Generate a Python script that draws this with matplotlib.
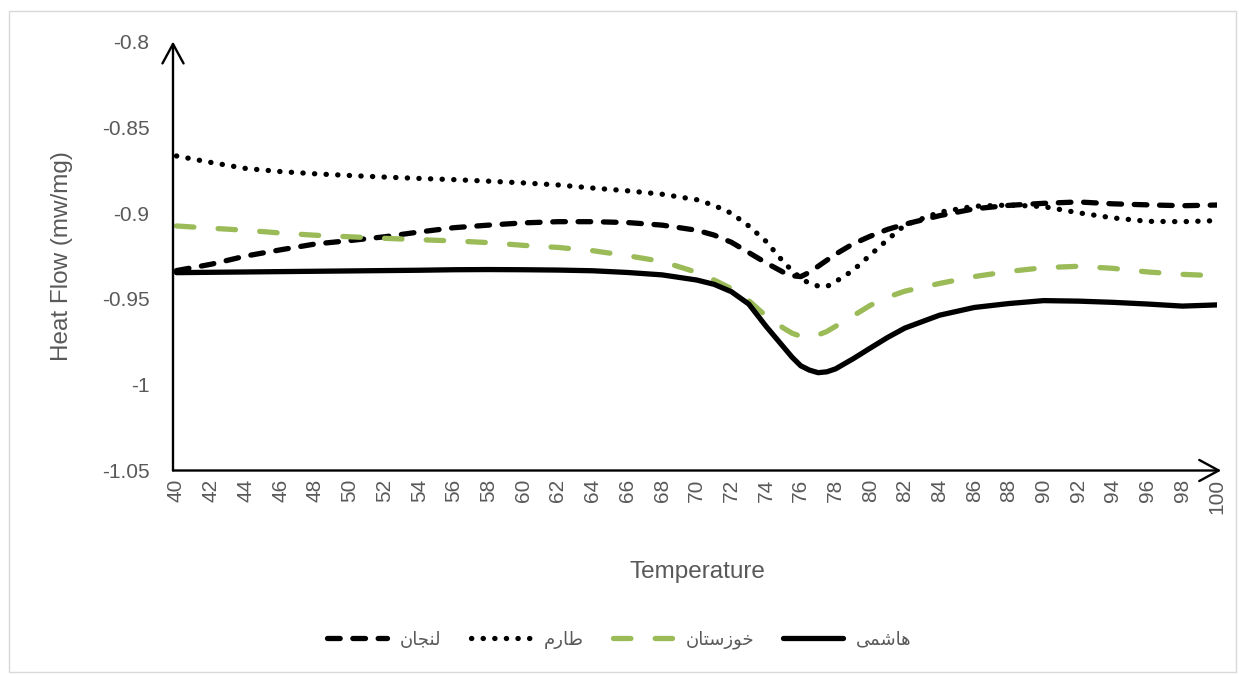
import numpy as np
import matplotlib.pyplot as plt
from matplotlib.patches import Rectangle

# ---- data ----
temperature = [40, 42, 44, 46, 48, 50, 52, 54, 56, 58, 60, 62, 64, 66, 68, 70,
               71, 72, 73, 74, 75, 75.5, 76, 76.5, 77, 77.5, 78, 79, 80, 81, 82,
               84, 86, 88, 90, 92, 94, 96, 98, 100]

lenjan = [-0.9335, -0.9298, -0.9250, -0.9214, -0.9180, -0.9160, -0.9138, -0.9110,
          -0.9085, -0.9070, -0.9057, -0.9050, -0.9050, -0.9055, -0.9070, -0.9100,
          -0.9128, -0.9170, -0.9230, -0.9290, -0.9345, -0.9365, -0.9370, -0.9345,
          -0.9310, -0.9275, -0.9240, -0.9180, -0.9135, -0.9095, -0.9065, -0.9015,
          -0.8975, -0.8955, -0.8943, -0.8935, -0.8946, -0.8952, -0.8957, -0.8953]

tarom = [-0.8667, -0.8705, -0.8740, -0.8758, -0.8771, -0.8781, -0.8790, -0.8798,
         -0.8805, -0.8814, -0.8824, -0.8836, -0.8854, -0.8870, -0.8890, -0.8922,
         -0.8955, -0.9001, -0.9075, -0.9165, -0.9285, -0.9335, -0.9380, -0.9410,
         -0.9425, -0.9428, -0.9400, -0.9335, -0.9245, -0.9155, -0.9070, -0.8995,
         -0.8960, -0.8953, -0.8962, -0.8998, -0.9028, -0.9048, -0.9050, -0.9044]

khuzestan = [-0.9075, -0.9088, -0.9100, -0.9116, -0.9129, -0.9138, -0.9147, -0.9155,
             -0.9162, -0.9172, -0.9188, -0.9200, -0.9219, -0.9248, -0.9282, -0.9345,
             -0.9390, -0.9440, -0.9510, -0.9600, -0.9670, -0.9700, -0.9718, -0.9722,
             -0.9710, -0.9690, -0.9660, -0.9600, -0.9538, -0.9490, -0.9455, -0.9410,
             -0.9370, -0.9340, -0.9318, -0.9310, -0.9322, -0.9343, -0.9357, -0.9365]

hashemi = [-0.9347, -0.9345, -0.9343, -0.9341, -0.9339, -0.9337, -0.9335, -0.9333,
           -0.9330, -0.9329, -0.9330, -0.9332, -0.9336, -0.9346, -0.9360, -0.9390,
           -0.9415, -0.9458, -0.9530, -0.9660, -0.9780, -0.9840, -0.9890, -0.9915,
           -0.9930, -0.9925, -0.9908, -0.9850, -0.9787, -0.9725, -0.9670, -0.9595,
           -0.9550, -0.9527, -0.9510, -0.9513, -0.9520, -0.9530, -0.9542, -0.9535]

series_names = ["لنجان", "طارم", "خوزستان", "هاشمی"]

x_ticks = list(range(40, 101, 2))
y_ticks = [-1.05, -1.0, -0.95, -0.9, -0.85, -0.8]
y_tick_labels = ["-1.05", "-1", "-0.95", "-0.9", "-0.85", "-0.8"]

# ---- tiny arabic shaper (matplotlib has no complex text layout) ----
FORMS = {  # isolated, final, initial, medial
    "ا": (0xFE8D, 0xFE8E, None, None),
    "ر": (0xFEAD, 0xFEAE, None, None),
    "ز": (0xFEAF, 0xFEB0, None, None),
    "و": (0xFEED, 0xFEEE, None, None),
    "ل": (0xFEDD, 0xFEDE, 0xFEDF, 0xFEE0),
    "ن": (0xFEE5, 0xFEE6, 0xFEE7, 0xFEE8),
    "ج": (0xFE9D, 0xFE9E, 0xFE9F, 0xFEA0),
    "ط": (0xFEC1, 0xFEC2, 0xFEC3, 0xFEC4),
    "م": (0xFEE1, 0xFEE2, 0xFEE3, 0xFEE4),
    "خ": (0xFEA5, 0xFEA6, 0xFEA7, 0xFEA8),
    "س": (0xFEB1, 0xFEB2, 0xFEB3, 0xFEB4),
    "ت": (0xFE95, 0xFE96, 0xFE97, 0xFE98),
    "ه": (0xFEE9, 0xFEEA, 0xFEEB, 0xFEEC),
    "ش": (0xFEB5, 0xFEB6, 0xFEB7, 0xFEB8),
    "ی": (0xFBFC, 0xFBFD, 0xFBFE, 0xFBFF),
}


def shape(word):
    out = []
    for i, ch in enumerate(word):
        iso, fin, ini, med = FORMS[ch]
        prev_joins = i > 0 and FORMS[word[i - 1]][2] is not None
        joins_next = ini is not None and i < len(word) - 1
        if prev_joins and joins_next:
            cp = med
        elif prev_joins:
            cp = fin
        elif joins_next:
            cp = ini
        else:
            cp = iso
        out.append(chr(cp))
    return "".join(reversed(out))


# ---- plot ----
GRAY = "#595959"
plt.rcParams["font.family"] = ["Liberation Sans", "DejaVu Sans"]

fig = plt.figure(figsize=(12.39, 6.75), dpi=100)
ax = fig.add_axes([173 / 1239, 1 - 470.5 / 675, (1217 - 173) / 1239, 429 / 675])

lw = 3.8
common = dict(lw=lw, dash_capstyle="round", solid_capstyle="round",
              dash_joinstyle="round", solid_joinstyle="round")
ax.plot(temperature, lenjan, color="black", linestyle=(0, (2.4, 2.4)),
        label=shape(series_names[0]), **common)
ax.plot(temperature, tarom, color="black", linestyle=(0, (0.05, 2.15)),
        label=shape(series_names[1]), **common)
ax.plot(temperature, khuzestan, color="#9BBB59", linestyle=(0, (3.3, 4.6)),
        label=shape(series_names[2]), **common)
ax.plot(temperature, hashemi, color="black", label=shape(series_names[3]), **common)

ax.set_xlim(39.8, 100)
ax.set_ylim(-1.05, -0.8)
ax.set_xticks(x_ticks)
ax.set_xticklabels([str(t) for t in x_ticks], rotation=90, va="top")
ax.set_yticks(y_ticks)
ax.set_yticklabels(y_tick_labels)
ax.tick_params(axis="x", length=0, pad=6, labelsize=15, labelcolor=GRAY)
ax.tick_params(axis="y", length=0, pad=17, labelsize=15, labelcolor=GRAY)

for s in ax.spines.values():
    s.set_visible(False)

arrow = dict(arrowstyle="->,head_length=0.7,head_width=0.38", lw=1.7,
             color="black", mutation_scale=20, shrinkA=0, shrinkB=0)
ax.annotate("", xy=(0, 1), xytext=(0, 0), xycoords="axes fraction",
            arrowprops=arrow, annotation_clip=False)
ax.annotate("", xy=(1.004, 0), xytext=(0, 0), xycoords="axes fraction",
            arrowprops=arrow, annotation_clip=False)

fig.text(62 / 1239, 1 - 256 / 675, "Heat Flow (mw/mg)", rotation=90,
         ha="center", va="center", fontsize=17.5, color=GRAY)
fig.text(697 / 1239, 1 - 572 / 675, "Temperature", ha="center", va="center",
         fontsize=17.5, color=GRAY)

leg = fig.legend(loc="center", bbox_to_anchor=(0.5, 1 - 640 / 675), ncol=4,
                 frameon=False, fontsize=13, handlelength=3.3, columnspacing=1.6,
                 handletextpad=0.75)
for t in leg.get_texts():
    t.set_color(GRAY)
    t.set_family(["DejaVu Sans"])

fig.patches.append(Rectangle((9 / 1239, 3 / 675), 1227 / 1239, 661 / 675,
                             transform=fig.transFigure, fill=False,
                             edgecolor="#d9d9d9", lw=1))

fig.savefig("out.png", dpi=100)
